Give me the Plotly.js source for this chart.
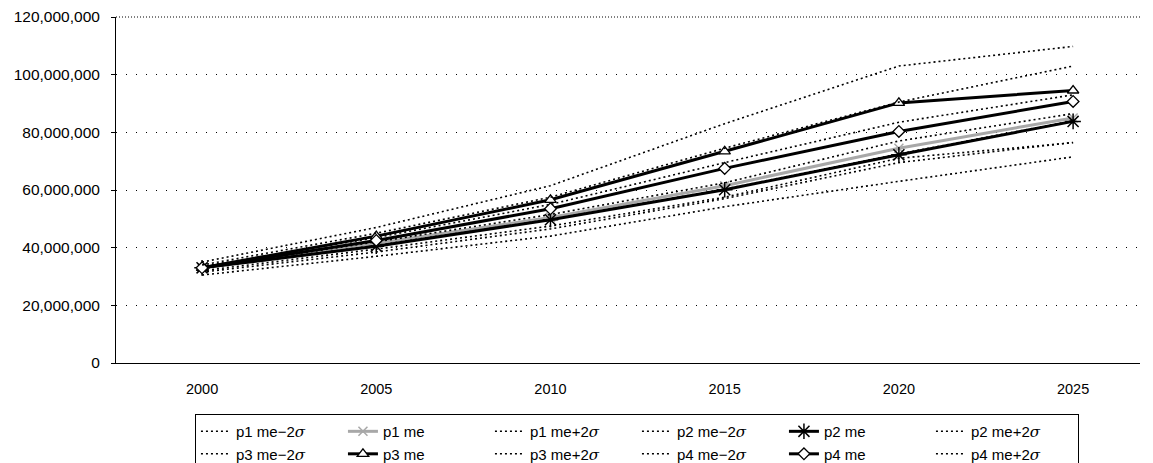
<!DOCTYPE html>
<html>
<head>
<meta charset="utf-8">
<script src="https://cdn.plot.ly/plotly-3.0.1.min.js"></script>
<style>html,body{margin:0;padding:0;background:#fff;}#chart{width:1153px;height:463px;}</style>
</head>
<body>
<div id="chart"></div>
<script>
// Categories (years)
var years = [2000, 2005, 2010, 2015, 2020, 2025];
var yTickVals = [0, 20000000, 40000000, 60000000, 80000000, 100000000, 120000000];

// Series values (population)
var p1_me_m2s = [31500000, 38500000, 46500000, 57000000, 69500000, 76500000];
var p1_me     = [33000000, 41500000, 50500000, 61500000, 74500000, 85000000];
var p1_me_p2s = [33000000, 42000000, 51500000, 62500000, 77000000, 86500000];
var p2_me_m2s = [30500000, 37000000, 44000000, 54200000, 63000000, 71500000];
var p2_me     = [33000000, 40500000, 49700000, 60100000, 72200000, 83800000];
var p2_me_p2s = [33500000, 43500000, 55000000, 69500000, 83500000, 93000000];
var p3_me_m2s = [32800000, 40800000, 49800000, 60300000, 72500000, 84000000];
var p3_me     = [33000000, 44000000, 56600000, 73400000, 90200000, 94500000];
var p3_me_p2s = [35000000, 47000000, 61500000, 83000000, 103000000, 109800000];
var p4_me_m2s = [32000000, 39500000, 47500000, 57500000, 71000000, 76400000];
var p4_me     = [33000000, 42500000, 53500000, 67500000, 80300000, 90700000];
var p4_me_p2s = [34000000, 45000000, 57500000, 74500000, 90500000, 103000000];

var sig = '<span style="font-family:\'DejaVu Serif\'"><i>σ</i></span>';
function nm(p, kind){
  if(kind==='m') return p + ' me\u22122' + sig;
  if(kind==='p') return p + ' me+2' + sig;
  return p + ' me';
}

var dotLine = {color:'#000', width:1.6, dash:'2px,3px'};
function dotted(name, y){
  return {x:years, y:y, name:name, type:'scatter', mode:'lines', line:dotLine};
}

var traces = [
  dotted(nm('p1','m'), p1_me_m2s),
  {x:years, y:p1_me, name:nm('p1'), type:'scatter', mode:'lines+markers',
    line:{color:'#a8a8a8', width:3}, marker:{symbol:'x-thin-open', size:9, color:'#a8a8a8', line:{width:1.5, color:'#a8a8a8'}}},
  dotted(nm('p1','p'), p1_me_p2s),
  dotted(nm('p2','m'), p2_me_m2s),
  {x:years, y:p2_me, name:nm('p2'), type:'scatter', mode:'lines+markers',
    line:{color:'#000', width:3}, marker:{symbol:'asterisk-open', size:13, color:'#000', line:{width:1.5, color:'#000'}}},
  dotted(nm('p2','p'), p2_me_p2s),
  dotted(nm('p3','m'), p3_me_m2s),
  {x:years, y:p3_me, name:nm('p3'), type:'scatter', mode:'lines+markers',
    line:{color:'#000', width:3}, marker:{symbol:'triangle-up', size:10, color:'#fff', line:{width:1.3, color:'#000'}}},
  dotted(nm('p3','p'), p3_me_p2s),
  dotted(nm('p4','m'), p4_me_m2s),
  {x:years, y:p4_me, name:nm('p4'), type:'scatter', mode:'lines+markers',
    line:{color:'#000', width:3}, marker:{symbol:'diamond', size:9, color:'#fff', line:{width:1.3, color:'#000'}}},
  dotted(nm('p4','p'), p4_me_p2s)
];

var layout = {
  width:1153, height:463,
  margin:{l:116, r:13, t:17, b:100, autoexpand:false},
  paper_bgcolor:'#fff', plot_bgcolor:'#fff',
  font:{family:'"Liberation Sans", Arial, sans-serif', size:14, color:'#000'},
  showlegend:true,
  xaxis:{
    type:'linear', range:[1997.53, 2026.92],
    tickvals:years, ticktext:years.map(String),
    showgrid:false, zeroline:false,
    showline:true, linecolor:'#000', linewidth:1,
    ticks:'', tickfont:{size:14.5}, ticklabelstandoff:13
  },
  yaxis:{
    range:[0, 120000000], tickvals:yTickVals,
    tickformat:',.0f',
    showgrid:true, gridcolor:'#000', gridwidth:1, griddash:'1px,9px',
    zeroline:false, showline:true, linecolor:'#000', linewidth:1,
    ticks:'outside', ticklen:4, tickcolor:'#000', tickfont:{size:15.5}, ticklabelstandoff:8
  },
  shapes:[{type:'line', xref:'paper', yref:'paper', x0:0, x1:1, y0:1, y1:1,
    line:{color:'#000', width:1, dash:'1px,2px'}}],
  legend:{
    orientation:'h', x:0.0771, xanchor:'left', y:-0.1476, yanchor:'top',
    bordercolor:'#000', borderwidth:1, bgcolor:'#fff',
    font:{size:15}, entrywidth:102, entrywidthmode:'pixels',
    traceorder:'normal', tracegroupgap:0, itemwidth:30
  }
};

Plotly.newPlot('chart', traces, layout, {staticPlot:true, displayModeBar:false});
</script>
</body>
</html>
